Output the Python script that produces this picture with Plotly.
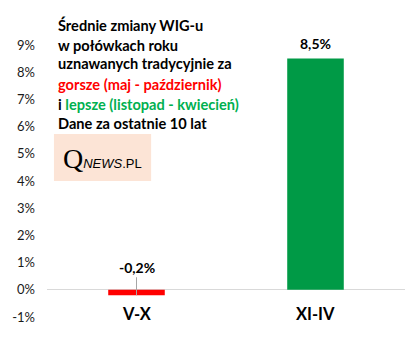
import plotly.graph_objects as go

categories = ["V-X", "XI-IV"]
values = [-0.2, 8.5]
labels = ["-0,2%", "8,5%"]
bar_colors = ["#FF0000", "#009A46"]
tick_vals = list(range(-1, 10))
tick_text = [f"{v}%" for v in tick_vals]

title_lines = [
    "Średnie zmiany WIG-u",
    "w połówkach roku",
    "uznawanych tradycyjnie za",
    '<span style="color:#FF0000">gorsze (maj - październik)</span>',
    'i <span style="color:#00B050">lepsze (listopad - kwiecień)</span>',
    "Dane za ostatnie 10 lat",
]

W, H = 419, 344
L, R, T, B = 44, 14, 45, 27
FONT = "Lato, Carlito, Open Sans, sans-serif"


def px(x):
    return (x - L) / (W - L - R)


def py(y):
    return (H - B - y) / (H - T - B)


fig = go.Figure()
fig.add_trace(go.Bar(
    x=categories, y=values,
    marker=dict(color=bar_colors, line=dict(width=0)),
    hoverinfo="skip",
))

ann = []
# data labels
ann.append(dict(x=categories[0], y=values[0], xref="x", yref="y", text=f"<b>{labels[0]}</b>",
                showarrow=True, arrowhead=0, arrowcolor="#A6A6A6", arrowwidth=1,
                ax=0, ay=-28, standoff=0, font=dict(family=FONT, size=14, color="#000000")))
ann.append(dict(x=categories[1], y=values[1], xref="x", yref="y", text=f"<b>{labels[1]}</b>",
                showarrow=False, yanchor="bottom", yshift=5,
                font=dict(family=FONT, size=14, color="#000000")))
# category labels
for c in categories:
    ann.append(dict(x=c, y=py(314), xref="x", yref="paper", text=f"<b>{c}</b>",
                    showarrow=False, yanchor="middle",
                    font=dict(family=FONT, size=16.5, color="#000000")))
# title lines
ys = [25, 45, 64, 84, 104, 123]
for line, yy in zip(title_lines, ys):
    ann.append(dict(x=px(53), y=py(yy), xref="paper", yref="paper", text=f"<b>{line}</b>",
                    showarrow=False, xanchor="left", yanchor="middle",
                    font=dict(family=FONT, size=14.6, color="#000000")))
# logo
ann.append(dict(x=px(100), y=py(158), xref="paper", yref="paper",
                text='<span style="font-family:Liberation Serif;font-size:28px">Q</span>'
                     '<i>NEWS</i>.PL',
                showarrow=False, xanchor="center", yanchor="middle",
                font=dict(family="Liberation Sans, Arial, sans-serif", size=13, color="#000000")))

fig.update_layout(
    width=W, height=H,
    margin=dict(l=L, r=R, t=T, b=B, pad=0),
    paper_bgcolor="white", plot_bgcolor="white",
    showlegend=False,
    bargap=0.684,
    annotations=ann,
    shapes=[dict(type="rect", xref="paper", yref="paper",
                 x0=px(51), x1=px(149), y0=py(181), y1=py(134),
                 fillcolor="#FCE4D6", line=dict(width=0), layer="below")],
    xaxis=dict(showticklabels=False, showgrid=False, zeroline=False, showline=False,
               fixedrange=True),
    yaxis=dict(range=[-1, 9], tickvals=tick_vals, ticktext=tick_text, showgrid=False,
               zeroline=True, zerolinecolor="#D9D9D9", zerolinewidth=1, showline=False,
               ticks="", ticklabelstandoff=11,
               tickfont=dict(family=FONT, size=13, color="#1A1A1A"), fixedrange=True),
)

fig.write_html("out.html", config={"displayModeBar": False})
